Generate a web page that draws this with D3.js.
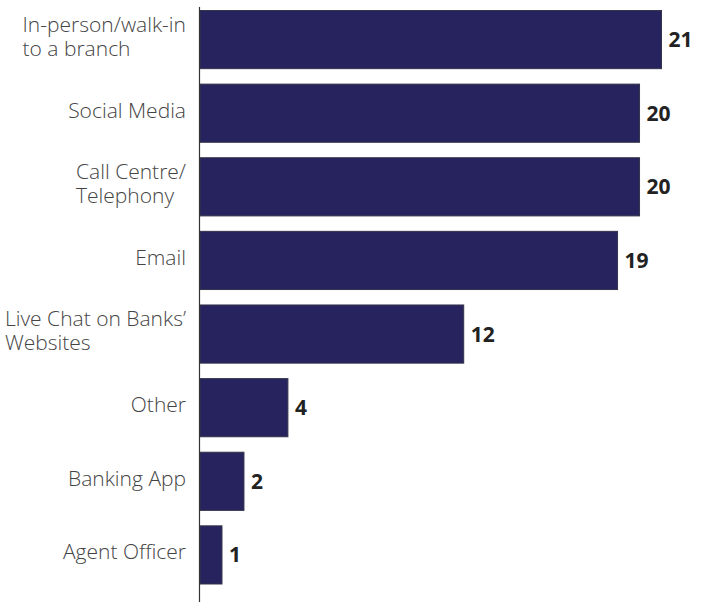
<!DOCTYPE html>
<html>
<head>
<meta charset="utf-8">
<script src="https://cdn.jsdelivr.net/npm/d3@7/dist/d3.min.js"></script>
<style>
  html, body { margin: 0; padding: 0; background: #ffffff; }
  svg { display: block; }
</style>
</head>
<body>
<svg id="chart" width="713" height="602"></svg>
<script>
// Contact channels (line breaks marked with \n) and their counts
const categories = [
  "In-person/walk-in\nto a branch",
  "Social Media",
  "Call Centre/\nTelephony",
  "Email",
  "Live Chat on Banks’\nWebsites",
  "Other",
  "Banking App",
  "Agent Officer"
];
const values = [21, 20, 20, 19, 12, 4, 2, 1];

const svg = d3.select("#chart");
const W = 713, H = 602;
const axisX = 200;

const x = d3.scaleLinear().domain([0, 21]).range([axisX, 661.5]);
const y = d3.scaleBand().domain(categories).range([10.5, 584]).paddingInner(0.21).paddingOuter(0);

const data = categories.map((c, i) => ({ cat: c, value: values[i] }));

// Bars
svg.append("g")
  .selectAll("rect")
  .data(data)
  .join("rect")
  .attr("x", x(0))
  .attr("y", d => y(d.cat))
  .attr("width", d => x(d.value) - x(0))
  .attr("height", y.bandwidth())
  .attr("fill", "#27235f")
  .attr("stroke", "#34344a")
  .attr("stroke-width", 1);

// Vertical baseline axis
svg.append("line")
  .attr("x1", axisX - 0.5).attr("x2", axisX - 0.5)
  .attr("y1", 7).attr("y2", H)
  .attr("stroke", "#333")
  .attr("stroke-width", 1.2);

// Category labels: each block's lines are left aligned, block right aligned next to the axis
const labelRight = 186;
const lineH = 24;
const labelG = svg.append("g")
  .attr("font-family", "'Open Sans', sans-serif")
  .attr("font-weight", 300)
  .attr("font-size", 21)
  .attr("fill", "#444");

data.forEach(d => {
  const lines = d.cat.split("\n");
  const cy = y(d.cat) + y.bandwidth() / 2 - 3;
  const t = labelG.append("text");
  lines.forEach((ln, k) => {
    t.append("tspan")
      .attr("x", 0)
      .attr("y", cy + (k - (lines.length - 1) / 2) * lineH)
      .attr("dy", "0.35em")
      .text(ln);
  });
  const w = t.node().getBBox().width;
  t.attr("transform", `translate(${labelRight - w},0)`);
});

// Value labels
svg.append("g")
  .selectAll("text")
  .data(data)
  .join("text")
  .attr("x", d => x(d.value) + 7)
  .attr("y", d => y(d.cat) + y.bandwidth() / 2)
  .attr("dy", "0.36em")
  .attr("font-family", "'Open Sans', sans-serif")
  .attr("font-weight", 700)
  .attr("font-size", 21)
  .attr("fill", "#222")
  .text(d => d.value);
</script>
</body>
</html>
